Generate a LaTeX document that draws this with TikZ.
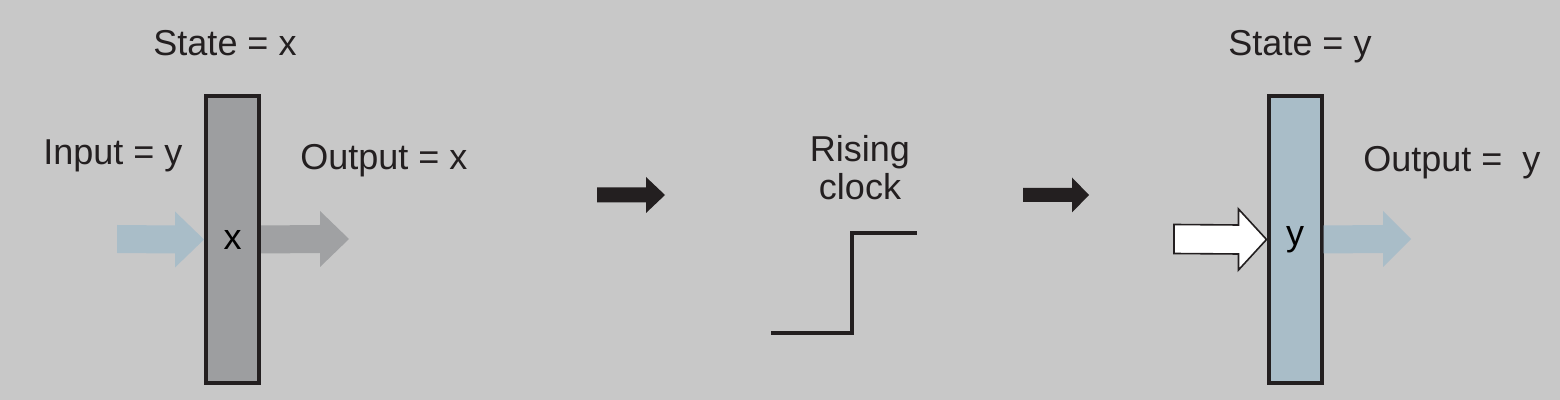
\documentclass[tikz,border=0pt]{standalone}
\usepackage{fontspec}
\setmainfont{Liberation Sans}
\usetikzlibrary{calc}
\definecolor{bggray}{RGB}{200,200,200}
\definecolor{reggray}{RGB}{157,158,160}
\definecolor{regblue}{RGB}{169,189,200}
\definecolor{arrgray}{RGB}{160,161,163}
\definecolor{inkblack}{RGB}{35,31,32}
\tikzset{
  regbox/.style={rectangle, draw=inkblack, line width=2pt,
    minimum width=26.5pt, minimum height=143.5pt, inner sep=0pt},
  lbl/.style={inner sep=0pt, text=inkblack},
  wave/.style={draw=inkblack, line width=2pt},
  bluearrow/.style={fill=regblue},
  grayarrow/.style={fill=arrgray},
  darkarrow/.style={fill=inkblack},
  hollowarrow/.style={fill=white, draw=inkblack, line width=0.8pt, line join=miter}
}
% style, start, tip, half shaft, half head, head length
\newcommand{\blockarrow}[6]{%
  \path[#1] ($(#2)+(0,#4)$) -- ($(#3)+(-#6,#4)$) -- ($(#3)+(-#6,#5)$) -- (#3)
    -- ($(#3)+(-#6,-#5)$) -- ($(#3)+(-#6,-#4)$) -- ($(#2)+(0,-#4)$) -- cycle;}
\begin{document}
\begin{tikzpicture}[x=0.5pt, y=-0.5pt, font=\fontsize{18}{19}\selectfont]
  \fill[bggray] (0,0) rectangle (1560,400);
  \useasboundingbox (0,0) rectangle (1560,400);

  % registers
  \node[regbox, fill=reggray] (regx) at (232.5,239.5) {x};
  \node[regbox, fill=regblue] (regy) at (1295,239.5) {y};

  % labels
  \node[lbl, anchor=base] (statex) at (225,56) {State = x};
  \node[lbl, anchor=base west] (inx) at (43,165) {Input = y};
  \node[lbl, anchor=base west] (outx) at (300,170) {Output = x};
  \node[lbl, anchor=base, align=center] (clk) at (860,200) {Rising\\clock};
  \node[lbl, anchor=base] (statey) at (1300,56) {State = y};
  \node[lbl, anchor=base west] (outy) at (1363,172) {Output =\ \ y};

  % free ends of the fat arrows
  \coordinate (inxtail) at (117,239);
  \coordinate (outxtip) at (349,239);
  \coordinate (stepatail) at (597,195);
  \coordinate (stepatip) at (665,195);
  \coordinate (stepbtail) at (1023,195);
  \coordinate (stepbtip) at (1089,195);
  \coordinate (inytail) at (1174,239);
  \coordinate (outytip) at (1411,239);

  \blockarrow{bluearrow}{inxtail}{regx.west}{14}{28}{29}
  \blockarrow{grayarrow}{regx.east}{outxtip}{14}{28}{29}
  \blockarrow{darkarrow}{stepatail}{stepatip}{7.5}{18}{19}
  \blockarrow{darkarrow}{stepbtail}{stepbtip}{7}{17.5}{17}
  \blockarrow{hollowarrow}{inytail}{regy.west}{14.5}{30.5}{28}
  \blockarrow{bluearrow}{regy.east}{outytip}{14}{28}{28}

  % clock edge
  \coordinate (lo) at (771,333);
  \coordinate (edge) at (852,233);
  \coordinate (hi) at (917,233);
  \draw[wave] (lo) -| (edge) -- (hi);
\end{tikzpicture}
\end{document}
